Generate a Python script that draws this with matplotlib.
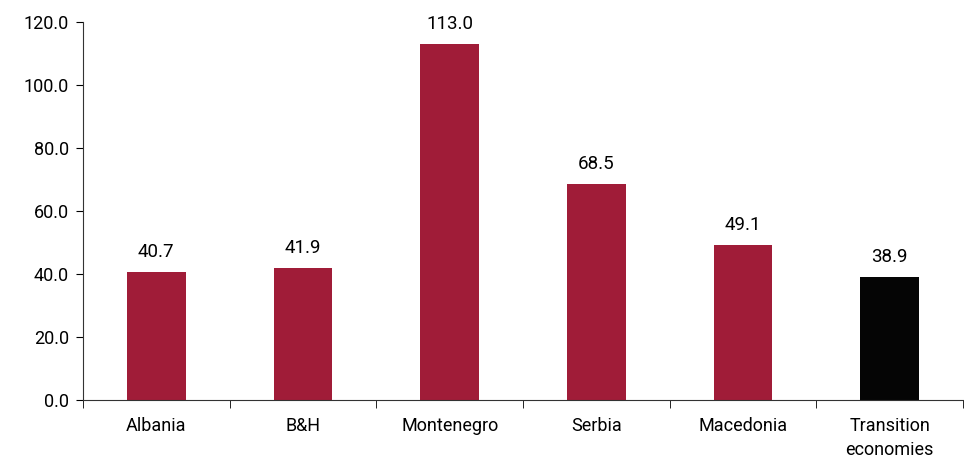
import matplotlib
matplotlib.use("Agg")
import matplotlib.pyplot as plt
import numpy as np

categories = ["Albania", "B&H", "Montenegro", "Serbia", "Macedonia", "Transition\neconomies"]
values = [40.7, 41.9, 113.0, 68.5, 49.1, 38.9]
colors = ["#A01C38"] * 5 + ["#050505"]

plt.rcParams['font.family'] = ['Roboto', 'DejaVu Sans']

fig = plt.figure(figsize=(9.64, 4.59), dpi=100)
ax = fig.add_axes([0.086, 0.1285, 0.913, 0.8235])

x = np.arange(len(categories))
bars = ax.bar(x, values, width=0.4, color=colors)
for xi, v in zip(x, values):
    ax.text(xi, v + 3.5, f"{v:.1f}", ha="center", va="bottom", fontsize=13.5)

ax.set_xlim(-0.5, len(categories) - 0.5)
ax.set_ylim(0, 120)
ax.set_yticks(np.arange(0, 121, 20))
ax.set_yticklabels([f"{t:.1f}" for t in np.arange(0, 121, 20)], fontsize=13)
ax.set_xticks(x)
ax.set_xticklabels(categories, fontsize=13, linespacing=1.45)
ax.tick_params(axis="x", length=0, pad=12)
ax.set_xticks(np.arange(-0.5, len(categories)), minor=True)
ax.tick_params(axis="x", which="minor", length=6, direction="out")
ax.tick_params(axis="y", length=5, direction="out", pad=5)
for s in ["top", "right"]:
    ax.spines[s].set_visible(False)
ax.spines["left"].set_color("#333333")
ax.spines["bottom"].set_color("#333333")

fig.savefig("out.png", dpi=100)
